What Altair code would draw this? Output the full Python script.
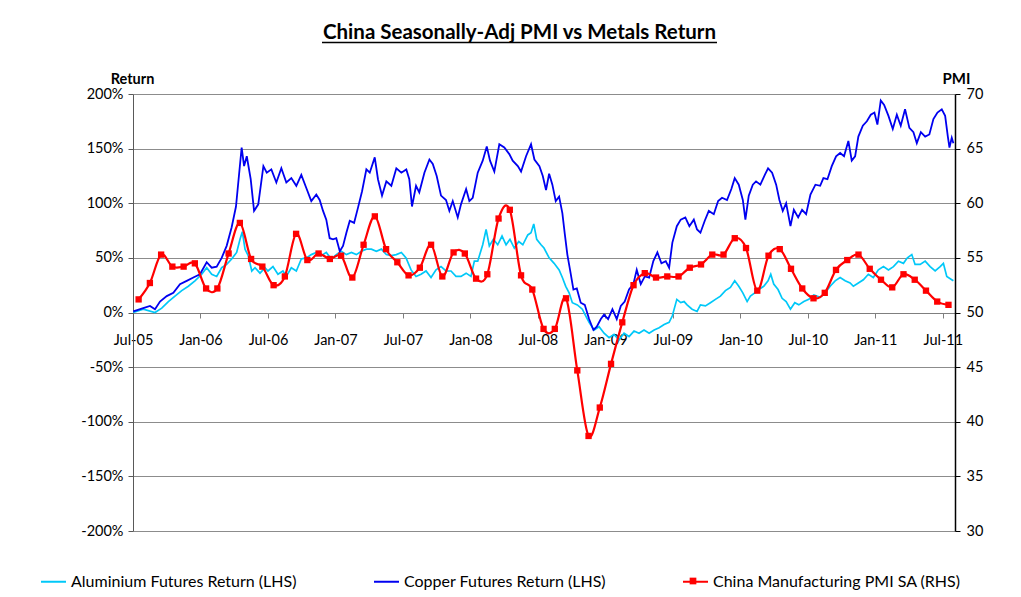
import altair as alt
import pandas as pd

TITLE = "China Seasonally-Adj PMI vs Metals Return"
SERIES = ["Aluminium Futures Return (LHS)", "Copper Futures Return (LHS)",
          "China Manufacturing PMI SA (RHS)"]
COLORS = ["#00C8F8", "#0000F0", "#FF0000"]

x_tick_years = [2005.5, 2006.0, 2006.5, 2007.0, 2007.5, 2008.0, 2008.5,
                2009.0, 2009.5, 2010.0, 2010.5, 2011.0, 2011.5]
x_tick_labels = ["Jul-05", "Jan-06", "Jul-06", "Jan-07", "Jul-07", "Jan-08", "Jul-08",
                 "Jan-09", "Jul-09", "Jan-10", "Jul-10", "Jan-11", "Jul-11"]
return_ticks = [-200, -150, -100, -50, 0, 50, 100, 150, 200]
pmi_ticks = [30, 35, 40, 45, 50, 55, 60, 65, 70]

# Copper futures return (%) (decimal year, value)
copper_years = [
    2005.502, 2005.576, 2005.626, 2005.663, 2005.700, 2005.750, 2005.799, 2005.848, 2005.898, 2005.947, 2005.996,
    2006.046, 2006.083, 2006.120, 2006.157, 2006.194, 2006.231, 2006.263, 2006.280, 2006.305, 2006.323,
    2006.343, 2006.372, 2006.397, 2006.428, 2006.466, 2006.491, 2006.525, 2006.562, 2006.599, 2006.636,
    2006.673, 2006.710, 2006.747, 2006.784, 2006.821, 2006.858, 2006.883, 2006.908, 2006.932, 2006.957, 2006.982,
    2007.006, 2007.032, 2007.056, 2007.081, 2007.106, 2007.138, 2007.167, 2007.197, 2007.229, 2007.254,
    2007.291, 2007.315, 2007.345, 2007.377, 2007.414, 2007.451, 2007.488, 2007.525, 2007.547, 2007.567,
    2007.597, 2007.621, 2007.659, 2007.696, 2007.721, 2007.750, 2007.782, 2007.819, 2007.844, 2007.869,
    2007.906, 2007.930, 2007.968, 2007.992,
    2008.017, 2008.054, 2008.091, 2008.121, 2008.145, 2008.177, 2008.214, 2008.251, 2008.288, 2008.313,
    2008.351, 2008.375, 2008.412, 2008.449, 2008.474, 2008.511, 2008.536, 2008.560, 2008.583, 2008.607,
    2008.632, 2008.657, 2008.681, 2008.699, 2008.718, 2008.738, 2008.763, 2008.788, 2008.817, 2008.847,
    2008.879, 2008.911, 2008.936, 2008.966, 2008.990,
    2009.020, 2009.052, 2009.084, 2009.114, 2009.143, 2009.175, 2009.207, 2009.232, 2009.262, 2009.292,
    2009.324, 2009.355, 2009.385, 2009.415, 2009.447, 2009.472, 2009.496, 2009.529, 2009.558, 2009.592,
    2009.622, 2009.655, 2009.679, 2009.704, 2009.736, 2009.766, 2009.803, 2009.835, 2009.864, 2009.901,
    2009.933, 2009.958, 2009.988,
    2010.018, 2010.037, 2010.062, 2010.092, 2010.116, 2010.148, 2010.181, 2010.205, 2010.235, 2010.265,
    2010.289, 2010.314, 2010.339, 2010.371, 2010.396, 2010.428, 2010.457, 2010.487, 2010.519, 2010.556,
    2010.591, 2010.615, 2010.645, 2010.677, 2010.709, 2010.739, 2010.768, 2010.800, 2010.825, 2010.850,
    2010.874, 2010.907, 2010.937, 2010.966, 2010.993,
    2011.015, 2011.040, 2011.065, 2011.097, 2011.129, 2011.159, 2011.188, 2011.220, 2011.252, 2011.282,
    2011.307, 2011.337, 2011.369, 2011.400, 2011.430, 2011.460, 2011.492, 2011.517, 2011.537, 2011.549,
    2011.566, 2011.578]
copper_return = [
    1, 4, 6, 3, 10, 15, 18, 26, 29, 32, 35,
    46, 41, 42, 50, 61, 78, 97, 119, 151, 134,
    143, 122, 93, 99, 134, 128, 131, 119, 132, 119,
    123, 116, 126, 114, 102, 108, 103, 93, 85, 68, 67,
    68, 56, 61, 73, 84, 82, 96, 111, 131, 128,
    142, 122, 107, 120, 116, 132, 128, 131, 122, 97,
    116, 110, 128, 140, 136, 125, 107, 103, 93, 102,
    87, 99, 113, 102,
    105, 128, 139, 152, 139, 129, 154, 151, 145, 139,
    134, 129, 143, 154, 140, 134, 125, 112, 127, 117,
    102, 106, 91, 72, 53, 39, 21, 22, 9, 7,
    -6, -16, -13, -6, -2,
    -6, 3, -6, 6, 10, 21, 26, 39, 26, 33,
    32, 47, 55, 45, 47, 41, 64, 79, 85, 87,
    79, 85, 76, 73, 84, 93, 90, 102, 105, 103,
    113, 123, 117,
    103, 85, 107, 117, 120, 117, 126, 132, 128, 117,
    103, 93, 100, 79, 94, 87, 94, 90, 108, 117,
    116, 123, 122, 134, 143, 146, 143, 157, 139, 143,
    161, 171, 175, 181, 183,
    172, 194, 190, 180, 168, 181, 171, 186, 169, 165,
    155, 165, 161, 163, 177, 183, 186, 180, 161, 151,
    160, 155]

# Aluminium futures return (%) (decimal year, value)
alu_years = [
    2005.502, 2005.576, 2005.663, 2005.713, 2005.762, 2005.811, 2005.861, 2005.910, 2005.959,
    2006.009, 2006.046, 2006.083, 2006.120, 2006.157, 2006.194, 2006.231, 2006.268, 2006.293, 2006.310,
    2006.330, 2006.354, 2006.380, 2006.404, 2006.441, 2006.478, 2006.500, 2006.537, 2006.574, 2006.611,
    2006.636, 2006.673, 2006.710, 2006.747, 2006.784, 2006.821, 2006.858, 2006.895, 2006.932, 2006.969,
    2007.006, 2007.043, 2007.081, 2007.118, 2007.155, 2007.192, 2007.229, 2007.266, 2007.303, 2007.340,
    2007.377, 2007.414, 2007.451, 2007.488, 2007.523, 2007.560, 2007.597, 2007.634, 2007.671, 2007.708,
    2007.745, 2007.782, 2007.819, 2007.856, 2007.893, 2007.930, 2007.968,
    2008.004, 2008.029, 2008.054, 2008.091, 2008.116, 2008.140, 2008.170, 2008.202, 2008.234, 2008.264,
    2008.293, 2008.325, 2008.358, 2008.388, 2008.425, 2008.449, 2008.469, 2008.491, 2008.523, 2008.545,
    2008.583, 2008.620, 2008.657, 2008.681, 2008.706, 2008.731, 2008.755, 2008.792, 2008.829, 2008.854,
    2008.879, 2008.916, 2008.953, 2008.990,
    2009.027, 2009.064, 2009.101, 2009.138, 2009.175, 2009.212, 2009.249, 2009.286, 2009.324, 2009.361,
    2009.398, 2009.435, 2009.472, 2009.496, 2009.529, 2009.558, 2009.583, 2009.605, 2009.642, 2009.679,
    2009.704, 2009.741, 2009.778, 2009.815, 2009.852, 2009.889, 2009.926, 2009.958, 2009.988,
    2010.018, 2010.050, 2010.074, 2010.107, 2010.136, 2010.173, 2010.205, 2010.225, 2010.247, 2010.279,
    2010.309, 2010.339, 2010.371, 2010.403, 2010.433, 2010.470, 2010.507, 2010.544, 2010.591, 2010.628,
    2010.665, 2010.702, 2010.739, 2010.776, 2010.813, 2010.837, 2010.874, 2010.911, 2010.948, 2010.985,
    2011.022, 2011.060, 2011.097, 2011.134, 2011.171, 2011.208, 2011.237, 2011.270, 2011.294, 2011.332,
    2011.369, 2011.406, 2011.443, 2011.480, 2011.504, 2011.529, 2011.566, 2011.578]
alu_return = [
    0, 3, 0, 4, 10, 15, 20, 24, 29,
    35, 41, 35, 33, 41, 44, 49, 55, 67, 74,
    58, 52, 38, 41, 36, 41, 38, 42, 35, 38,
    33, 41, 38, 49, 50, 53, 55, 52, 55, 49,
    53, 56, 53, 55, 53, 56, 58, 58, 56, 58,
    53, 52, 53, 55, 50, 39, 33, 35, 38, 32,
    39, 42, 38, 38, 33, 33, 36,
    33, 47, 47, 62, 76, 61, 67, 62, 70, 62,
    67, 59, 65, 62, 71, 73, 81, 67, 62, 59,
    50, 45, 39, 32, 24, 18, 9, 7, 3, -3,
    -9, -16, -13, -19,
    -23, -20, -25, -19, -22, -17, -19, -16, -19, -16,
    -14, -11, -9, -3, 12, 9, 10, 7, 3, 1,
    7, 6, 9, 12, 15, 20, 23, 29, 24,
    18, 10, 15, 18, 21, 24, 29, 35, 26, 21,
    13, 10, 3, 9, 7, 10, 12, 16, 14, 18,
    24, 29, 32, 29, 27, 24, 27, 30, 35, 32,
    39, 42, 39, 42, 47, 45, 50, 53, 44, 44,
    47, 42, 38, 42, 45, 33, 30, 29]

# China Manufacturing PMI SA, monthly Jul-05 .. Jul-11
pmi_months = [str(p) for p in pd.period_range("2005-07", "2011-07", freq="M")]
pmi_values = [
    51.2, 52.7, 55.3, 54.2, 54.2, 54.5,
    52.2, 52.2, 55.4, 58.2, 54.9, 54.2, 52.5, 53.3, 57.2, 54.8, 55.4, 54.9,
    55.2, 53.2, 56.2, 58.8, 55.8, 54.6, 53.4, 54.1, 56.2, 53.3, 55.5, 55.4,
    53.1, 53.5, 58.6, 59.4, 53.4, 52.1, 48.5, 48.5, 51.3, 44.7, 38.7, 41.3,
    45.3, 49.1, 52.5, 53.6, 53.2, 53.3, 53.3, 54.1, 54.4, 55.3, 55.3, 56.8,
    55.9, 52.0, 55.2, 55.8, 54.0, 52.2, 51.3, 51.8, 53.9, 54.8, 55.3, 54.0,
    53.0, 52.3, 53.5, 53.0, 52.0, 51.0, 50.7]

al_df = pd.DataFrame({"year": alu_years, "ret": alu_return, "series": SERIES[0]})
cu_df = pd.DataFrame({"year": copper_years, "ret": copper_return, "series": SERIES[1]})
pmi_year = [int(m[:4]) + (int(m[5:7]) - 0.5) / 12 for m in pmi_months]
pmi_df = pd.DataFrame({"year": pmi_year, "pmi": pmi_values, "series": SERIES[2], "marker": "PMI"})

FONT = "Lato"
label_expr = "[" + ",".join("'%s'" % s for s in x_tick_labels) + "][round((datum.value - 2005.5) * 2)]"

x_enc = alt.X(
    "year:Q",
    scale=alt.Scale(domain=[2005.5, 2011.59], nice=False, zero=False),
    axis=alt.Axis(values=x_tick_years, labelExpr=label_expr, title=None, offset=-218,
                  grid=False, domainColor="#7F7F7F", tickColor="#7F7F7F", tickSize=5,
                  labelPadding=15, labelFlush=False, labelOverlap=False,
                  labelFont=FONT, labelFontSize=14.5, labelColor="#000"),
)

legend_a = alt.Legend(orient="none", legendX=-93, legendY=474, direction="horizontal",
                      columns=3, title=None, symbolType="stroke", symbolSize=625,
                      symbolStrokeWidth=2, labelFont=FONT, labelFontSize=16,
                      labelColor="#000", labelOffset=4, columnPadding=73,
                      labelLimit=400, padding=0)
color_enc = alt.Color("series:N", scale=alt.Scale(domain=SERIES, range=COLORS), legend=legend_a)

y_left = alt.Y(
    "ret:Q",
    scale=alt.Scale(domain=[-200, 200], nice=False),
    axis=alt.Axis(values=return_ticks, labelExpr="datum.value + '%'", title="Return",
                  titleAngle=0, titleX=-1, titleY=-11, titleAlign="center",
                  titleBaseline="alphabetic", titleFont=FONT, titleFontSize=14.5,
                  titleFontWeight="bold", titleColor="#000",
                  grid=True, gridColor="#8C8C8C", gridWidth=1,
                  domainColor="#595959", tickColor="#595959", tickSize=5, labelPadding=5,
                  labelFont=FONT, labelFontSize=14.5, labelColor="#000"),
)
y_right = alt.Y(
    "pmi:Q",
    scale=alt.Scale(domain=[30, 70], nice=False, zero=False),
    axis=alt.Axis(orient="right", values=pmi_ticks, title="PMI", titleAngle=0, titleX=1,
                  titleY=-11, titleAlign="center", titleBaseline="alphabetic",
                  titleFont=FONT, titleFontSize=15, titleFontWeight="bold", titleColor="#000",
                  grid=False, domainColor="#000", domainWidth=1.5, tickColor="#000",
                  tickSize=5, labelPadding=6, labelFont=FONT, labelFontSize=14.5,
                  labelColor="#000"),
)

al_line = alt.Chart(al_df).mark_line(strokeWidth=1.7).encode(x=x_enc, y=y_left, color=color_enc)
cu_line = alt.Chart(cu_df).mark_line(strokeWidth=1.8).encode(x=x_enc, y=y_left, color=color_enc)

legend_b = alt.Legend(orient="none", legendX=553, legendY=480, title=None, labelExpr="''",
                      symbolType="square", symbolSize=45, symbolFillColor="#FF0000",
                      symbolStrokeColor="#FF0000", symbolStrokeWidth=0, labelFontSize=14,
                      padding=0)
pmi_line = alt.Chart(pmi_df).mark_line(strokeWidth=2.2, interpolate="cardinal").encode(
    x=x_enc, y=y_right, color=color_enc)
pmi_pts = alt.Chart(pmi_df).mark_point(filled=True, color="#FF0000", size=40, opacity=1).encode(
    x=x_enc, y=y_right,
    shape=alt.Shape("marker:N", scale=alt.Scale(range=["square"]), legend=legend_b))

one_row = alt.Data(values=[{}])
title_text = alt.Chart(one_row).mark_text(
    text=TITLE, font=FONT, fontSize=20.5, fontWeight="bold", color="#000",
    align="center", baseline="alphabetic").encode(x=alt.value(386.5), y=alt.value(-55))
underline = alt.Chart(one_row).mark_rule(color="#000", strokeWidth=1.5).encode(
    x=alt.value(189), x2=alt.value(584), y=alt.value(-51.5))

left = alt.layer(al_line, cu_line)
right = alt.layer(pmi_line, pmi_pts)

chart = alt.layer(left, right, title_text, underline).resolve_scale(y="independent").properties(
    width=822, height=437,
    padding={"left": 125, "top": 86, "right": 58, "bottom": 66},
    autosize=alt.AutoSizeParams(type="none"),
).configure_view(stroke=None)

chart.save("out.html", embed_options={"renderer": "svg", "actions": False})
